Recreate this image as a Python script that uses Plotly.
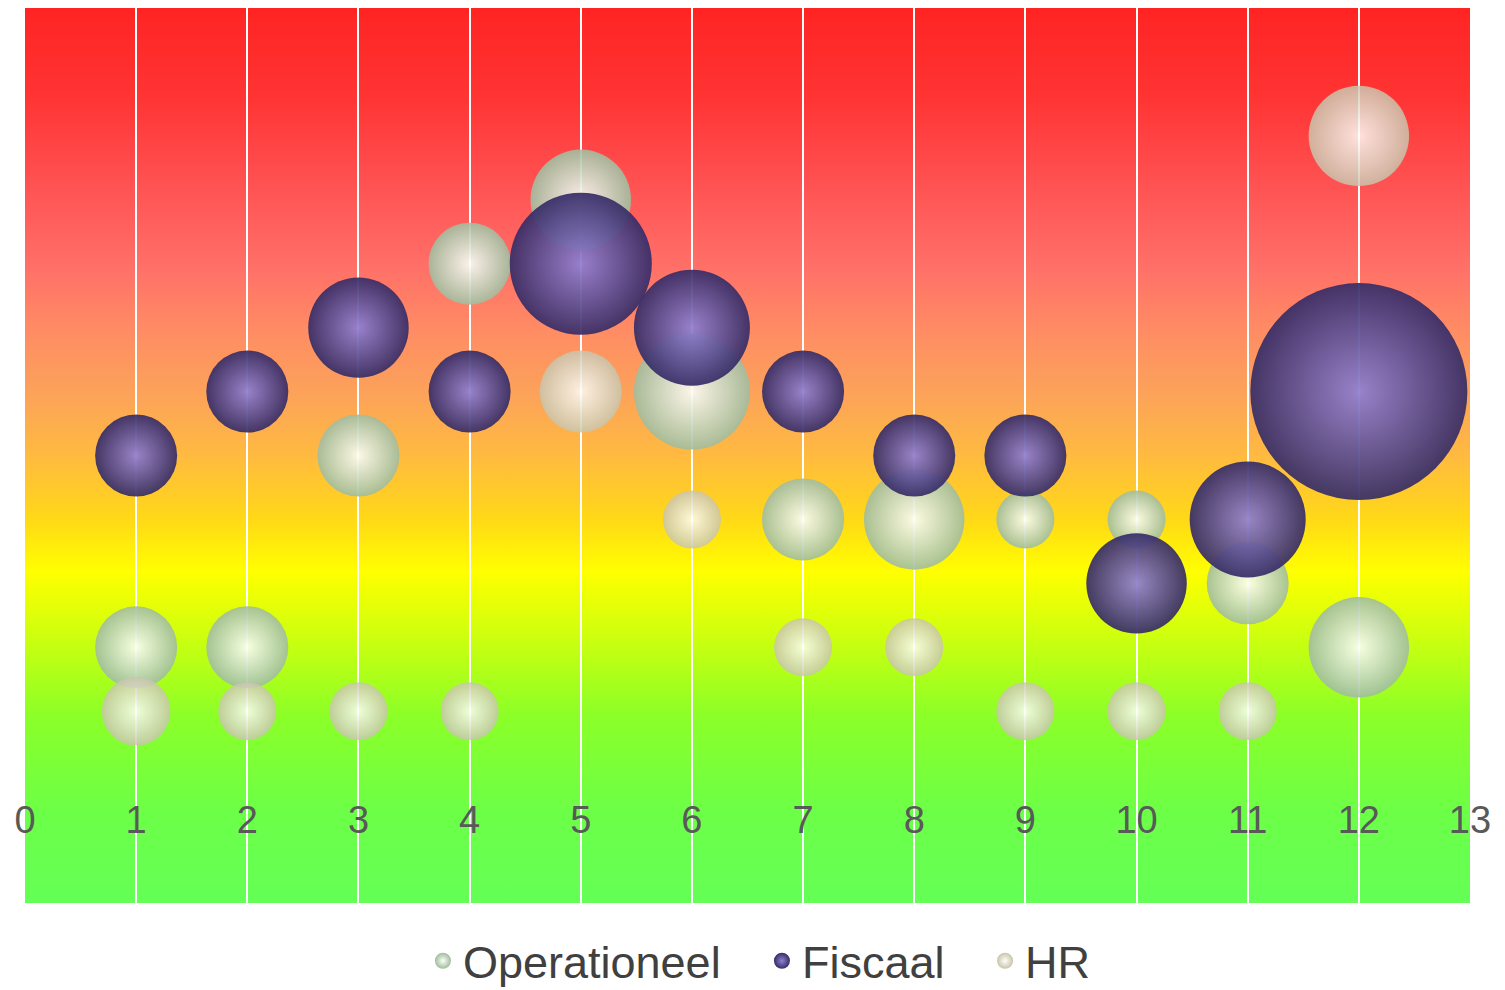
import base64
import plotly.graph_objects as go

# ---- data ----
x_vals = [1, 2, 3, 4, 5, 6, 7, 8, 9, 10, 11, 12]

oper_y = [2, 2, 5, 8, 9, 6, 4, 4, 4, 4, 3, 2]
oper_size = [2, 2, 2, 2, 3, 4, 2, 3, 1, 1, 2, 3]

fisc_y = [5, 6, 7, 6, 8, 7, 6, 5, 5, 3, 4, 6]
fisc_size = [2, 2, 3, 2, 6, 4, 2, 2, 2, 3, 4, 14]

hr_y = [1, 1, 1, 1, 6, 4, 2, 2, 1, 1, 1, 10]
hr_size = [1.4, 1, 1, 1, 2, 1, 1, 1, 1, 1, 1, 3]

x_ticks = list(range(0, 14))
series_names = ["Operationeel", "Fiscaal", "HR"]

# ---- background gradient (SVG image) ----
stops = [(0.00, "#ff2424"), (0.10, "#ff3434"), (0.21, "#ff5656"), (0.29, "#ff7068"),
         (0.36, "#ff8c64"), (0.43, "#fca25a"), (0.50, "#ffba40"), (0.57, "#ffd818"),
         (0.63, "#ffff00"), (0.71, "#c8ff10"), (0.79, "#8cff28"), (0.90, "#6cff48"),
         (1.00, "#64ff56")]
stop_xml = "".join(f"<stop offset='{o}' stop-color='{c}'/>" for o, c in stops)
svg = ("<svg xmlns='http://www.w3.org/2000/svg' width='200' height='200' viewBox='0 0 200 200' "
       "preserveAspectRatio='none'><defs><linearGradient id='g' x1='0' y1='0' x2='0' y2='1'>"
       + stop_xml + "</linearGradient></defs><rect x='0' y='0' width='200' height='200' fill='url(#g)'/></svg>")
svg_uri = "data:image/svg+xml;base64," + base64.b64encode(svg.encode()).decode()

SIZEREF = 2.0 / (58.0 ** 2)
FONT = "Liberation Sans, Arial, sans-serif"

styles = {
    "Operationeel": dict(edge="rgb(160,188,158)", center="rgb(252,255,248)", op=0.9),
    "Fiscaal": dict(edge="rgb(55,45,102)", center="rgb(145,128,210)", op=0.93),
    "HR": dict(edge="rgb(200,196,172)", center="rgb(255,255,250)", op=0.84),
}
legend_x = {"Operationeel": 0.2754, "Fiscaal": 0.510, "HR": 0.6644}
legend_ids = {"Operationeel": "legend", "Fiscaal": "legend2", "HR": "legend3"}

fig = go.Figure()

def add_series(name, ys, sizes):
    st = styles[name]
    fig.add_trace(go.Scatter(
        x=x_vals, y=ys, mode="markers", name=name, showlegend=False,
        marker=dict(size=sizes, sizemode="area", sizeref=SIZEREF,
                    color=st["edge"], opacity=st["op"],
                    gradient=dict(type="radial", color=st["center"]),
                    line=dict(width=0)),
        hoverinfo="x+y+name",
    ))

add_series("Operationeel", oper_y, oper_size)
add_series("Fiscaal", fisc_y, fisc_size)
add_series("HR", hr_y, hr_size)

# legend entries (no points, legend symbols only)
for name in series_names:
    st = styles[name]
    fig.add_trace(go.Scatter(
        x=[None], y=[None], mode="markers", name=name, showlegend=True,
        legend=legend_ids[name],
        marker=dict(size=18, color=st["edge"], opacity=1,
                    gradient=dict(type="radial", color=st["center"]),
                    line=dict(width=0)),
    ))

legend_common = dict(orientation="h", xanchor="left", y=-0.0648, yanchor="middle",
                     font=dict(family=FONT, size=45, color="#404040"),
                     bgcolor="rgba(0,0,0,0)", itemsizing="trace")

fig.update_layout(
    width=1497, height=982,
    margin=dict(l=17, r=35, t=0, b=87, autoexpand=False),
    paper_bgcolor="white",
    plot_bgcolor="rgba(0,0,0,0)",
    images=[dict(source=svg_uri, xref="paper", yref="paper", x=0, y=1,
                 sizex=1, sizey=1, xanchor="left", yanchor="top",
                 sizing="stretch", layer="below")],
    showlegend=True,
    legend=dict(legend_common, x=legend_x["Operationeel"]),
    legend2=dict(legend_common, x=legend_x["Fiscaal"]),
    legend3=dict(legend_common, x=legend_x["HR"]),
    font=dict(family=FONT),
)

fig.update_xaxes(
    range=[0, 13], tickmode="array", tickvals=x_ticks, ticktext=[str(t) for t in x_ticks],
    showgrid=True, gridcolor="white", gridwidth=1.5, zeroline=False, showline=False,
    ticks="", anchor="free", position=2 / 14, ticklabelstandoff=19,
    tickfont=dict(family=FONT, size=38, color="#595959"),
)
fig.update_yaxes(range=[-2, 12], showgrid=False, zeroline=False, showticklabels=False,
                 showline=False, ticks="")

fig.write_html("out.html")
